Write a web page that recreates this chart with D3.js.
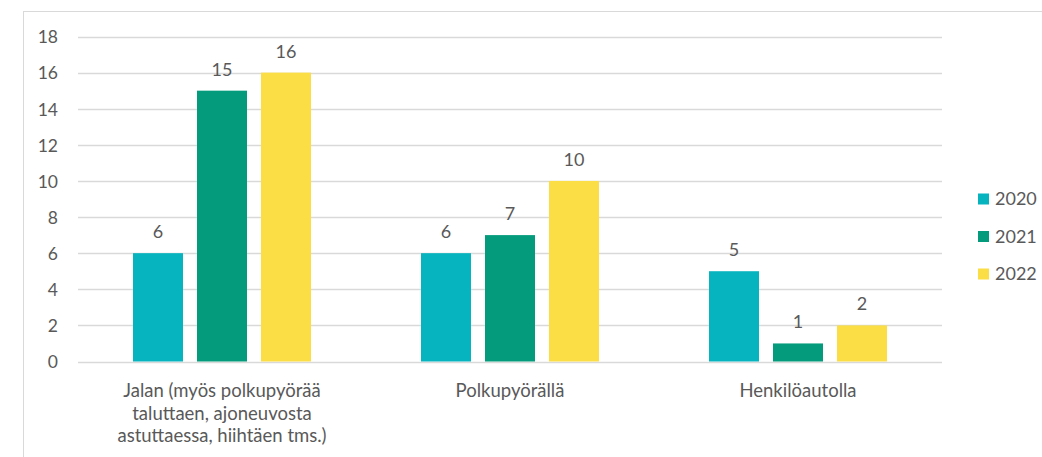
<!DOCTYPE html>
<html>
<head>
<meta charset="utf-8">
<script src="https://cdn.jsdelivr.net/npm/d3@7"></script>
<style>
  html, body { margin: 0; padding: 0; background: #fff; }
  svg { display: block; }
  text { font-family: Lato, "Open Sans", sans-serif; fill: #595959; }
</style>
</head>
<body>
<svg id="chart" width="1042" height="457"></svg>
<script>
const categories = [
  ["Jalan (myös polkupyörää", "taluttaen, ajoneuvosta", "astuttaessa, hiihtäen tms.)"],
  ["Polkupyörällä"],
  ["Henkilöautolla"]
];
const seriesNames = ["2020", "2021", "2022"];
const values2020 = [6, 6, 5];
const values2021 = [15, 7, 1];
const values2022 = [16, 10, 2];
const yTicks = [0, 2, 4, 6, 8, 10, 12, 14, 16, 18];
const colors = ["#06B4BF", "#039B7B", "#FBDE45"];

const series = [values2020, values2021, values2022];
const svg = d3.select("#chart");

// outer frame (only left and top edges fall inside the window)
svg.append("rect")
  .attr("x", 23.5).attr("y", 11.5)
  .attr("width", 1100).attr("height", 600)
  .attr("fill", "none").attr("stroke", "#d9d9d9").attr("stroke-width", 1);

const plot = { left: 78, right: 942, top: 36.5, bottom: 361.5 };

const x0 = d3.scaleBand()
  .domain(d3.range(categories.length))
  .range([plot.left, plot.right])
  .padding(0);

const groupWidth = 178;
const x1 = d3.scaleBand()
  .domain(d3.range(seriesNames.length))
  .range([(x0.bandwidth() - groupWidth) / 2, (x0.bandwidth() + groupWidth) / 2])
  .paddingInner(14 / 64)
  .paddingOuter(0);

const y = d3.scaleLinear().domain([0, 18]).range([plot.bottom, plot.top]);

// gridlines
svg.append("g")
  .selectAll("line")
  .data(yTicks)
  .join("line")
  .attr("x1", plot.left).attr("x2", plot.right)
  .attr("y1", d => Math.round(y(d)) + 0.5).attr("y2", d => Math.round(y(d)) + 0.5)
  .attr("stroke", "#d9d9d9").attr("stroke-width", 1.5);

// y axis labels
const yAxis = d3.axisLeft(y).tickValues(yTicks).tickSize(0).tickPadding(0);
const yg = svg.append("g")
  .attr("transform", `translate(${plot.left - 20},0)`)
  .call(yAxis);
yg.select(".domain").remove();
yg.selectAll("text")
  .style("font-size", "17.5px")
  .style("fill", "#595959")
  .style("font-family", "Lato, sans-serif")
  .attr("dy", "0.36em");

// bars
const groups = svg.append("g")
  .selectAll("g")
  .data(categories.map((c, i) => i))
  .join("g")
  .attr("transform", i => `translate(${x0(i)},0)`);

groups.selectAll("rect")
  .data(i => series.map((s, k) => ({ k, v: s[i] })))
  .join("rect")
  .attr("x", d => x1(d.k))
  .attr("width", x1.bandwidth())
  .attr("y", d => y(d.v))
  .attr("height", d => y(0) - y(d.v))
  .attr("fill", d => colors[d.k]);

// value labels
groups.selectAll("text.val")
  .data(i => series.map((s, k) => ({ k, v: s[i] })))
  .join("text")
  .attr("class", "val")
  .attr("x", d => x1(d.k) + x1.bandwidth() / 2)
  .attr("y", d => y(d.v) - 15)
  .attr("text-anchor", "middle")
  .style("font-size", "18px")
  .text(d => d.v);

// category labels
const catLabels = svg.append("g")
  .selectAll("text")
  .data(categories)
  .join("text")
  .attr("x", (d, i) => x0(i) + x0.bandwidth() / 2)
  .attr("y", 397)
  .attr("text-anchor", "middle")
  .style("font-size", "18.5px");
catLabels.selectAll("tspan")
  .data(d => d)
  .join("tspan")
  .attr("x", function() { return this.parentNode.getAttribute("x"); })
  .attr("dy", (d, j) => j === 0 ? 0 : 22.5)
  .text(d => d);

// legend
const legend = svg.append("g")
  .selectAll("g")
  .data(seriesNames)
  .join("g")
  .attr("transform", (d, i) => `translate(978,${199 + i * 37.5})`);
legend.append("rect")
  .attr("x", 0).attr("y", -5.5)
  .attr("width", 11).attr("height", 11)
  .attr("fill", (d, i) => colors[i]);
legend.append("text")
  .attr("x", 17).attr("y", 0).attr("dy", "0.36em")
  .style("font-size", "18px")
  .text(d => d);
</script>
</body>
</html>
